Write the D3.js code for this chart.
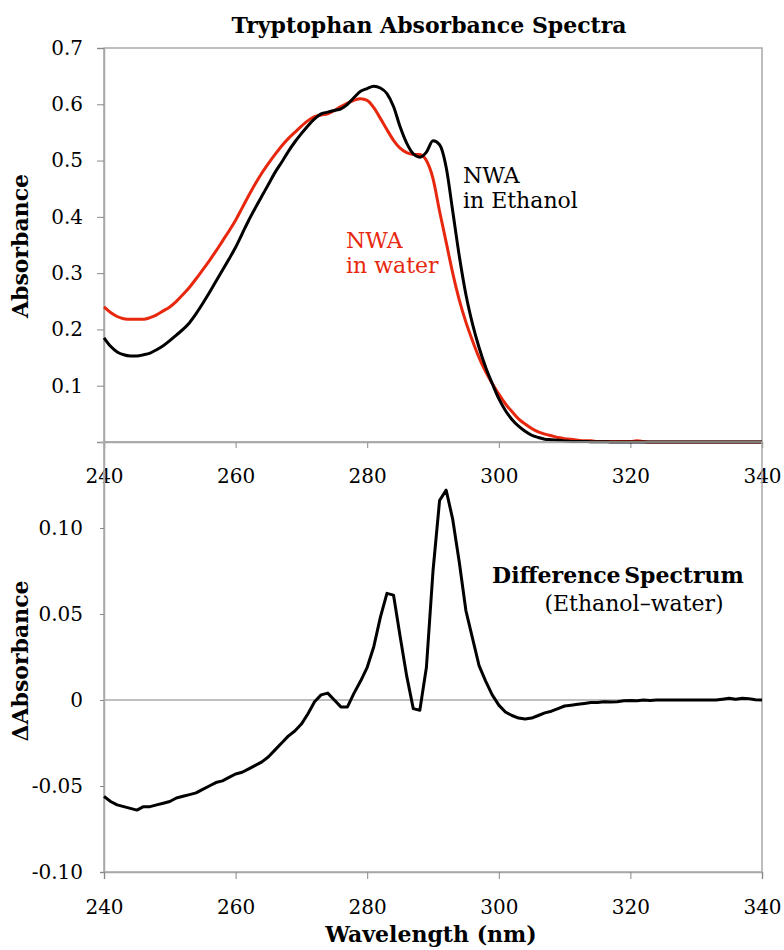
<!DOCTYPE html>
<meta charset="utf-8">
<script src="https://d3js.org/d3.v7.min.js"></script>
<style>
  body { margin: 0; background: #fff; }
  text { font-family: "DejaVu Serif", serif; }
</style>
<div id="my_dataviz"></div>
<script>

// wavelengths (nm), one reading per nm
var wavelength = [
  240,241,242,243,244,245,246,247,248,249,
  250,251,252,253,254,255,256,257,258,259,
  260,261,262,263,264,265,266,267,268,269,
  270,271,272,273,274,275,276,277,278,279,
  280,281,282,283,284,285,286,287,288,289,
  290,291,292,293,294,295,296,297,298,299,
  300,301,302,303,304,305,306,307,308,309,
  310,311,312,313,314,315,316,317,318,319,
  320,321,322,323,324,325,326,327,328,329,
  330,331,332,333,334,335,336,337,338,339,340];

// NWA in ethanol
var ethanol = [
  0.185,0.170,0.160,0.155,0.153,0.153,0.155,0.158,0.164,0.171,
  0.180,0.190,0.200,0.212,0.228,0.246,0.265,0.285,0.305,0.325,
  0.346,0.370,0.394,0.416,0.437,0.458,0.479,0.497,0.516,0.533,
  0.548,0.562,0.574,0.583,0.586,0.589,0.592,0.600,0.612,0.623,
  0.628,0.632,0.629,0.619,0.596,0.560,0.531,0.512,0.506,0.515,
  0.535,0.528,0.488,0.410,0.330,0.262,0.210,0.168,0.133,0.104,
  0.077,0.056,0.040,0.028,0.019,0.012,0.008,0.005,0.004,0.003,
  0.002,0.001,0.001,0.001,0.0005,0.0005,0.0005,0,0,0,
  0,0,0,0,0,0,0,0,0,0,
  0,0,0,0,0,0,0,0,0,0,0];

// NWA in water
var water = [
  0.240,0.230,0.223,0.219,0.218,0.218,0.218,0.221,0.226,0.233,
  0.240,0.250,0.262,0.275,0.290,0.306,0.322,0.339,0.357,0.375,
  0.394,0.416,0.438,0.459,0.478,0.495,0.511,0.526,0.539,0.550,
  0.561,0.571,0.578,0.581,0.583,0.589,0.596,0.602,0.607,0.610,
  0.607,0.594,0.575,0.555,0.536,0.522,0.514,0.511,0.511,0.500,
  0.468,0.410,0.355,0.300,0.252,0.213,0.180,0.150,0.125,0.104,
  0.085,0.068,0.054,0.041,0.032,0.024,0.018,0.014,0.011,0.008,
  0.006,0.005,0.003,0.002,0.002,0.001,0.001,0.001,0.001,0.001,
  0.001,0.002,0.001,0,0,0,0,0,0,0,
  0,0,0,0,0,0,0,0,0,0,0];

// difference spectrum (ethanol - water)
var difference = [
  -0.056,-0.059,-0.061,-0.062,-0.063,-0.064,-0.062,-0.062,-0.061,-0.060,
  -0.059,-0.057,-0.056,-0.055,-0.054,-0.052,-0.050,-0.048,-0.047,-0.045,
  -0.043,-0.042,-0.040,-0.038,-0.036,-0.033,-0.029,-0.025,-0.021,-0.018,
  -0.014,-0.008,-0.001,0.003,0.004,0.000,-0.004,-0.004,0.004,0.011,
  0.019,0.031,0.048,0.062,0.061,0.037,0.014,-0.005,-0.006,0.019,
  0.075,0.116,0.122,0.105,0.080,0.052,0.036,0.020,0.011,0.003,
  -0.003,-0.007,-0.009,-0.0105,-0.011,-0.0105,-0.009,-0.0075,-0.0065,-0.005,
  -0.0035,-0.003,-0.0025,-0.002,-0.0015,-0.0015,-0.001,-0.0012,-0.001,-0.0005,
  -0.0003,-0.0005,0,-0.0003,0,0,0,0,0,0,
  0,0,0,0,0.0005,0.001,0.0005,0.001,0.0008,0.0002,0];

var xTicks = [240, 260, 280, 300, 320, 340];
var absTicks = [0, 0.1, 0.2, 0.3, 0.4, 0.5, 0.6, 0.7];
var diffTicks = [-0.10, -0.05, 0, 0.05, 0.10];

var W = 784, H = 950;
var left = 104, right = 762;
var red = "#e8280e", grey = "#a8a8a8";

var svg = d3.select("#my_dataviz")
  .append("svg")
    .attr("width", W)
    .attr("height", H)
    .style("background", "#fff");

var x = d3.scaleLinear().domain([240, 340]).range([left, right]);
var yTop = d3.scaleLinear().domain([0, 0.7]).range([442, 48]);
var yBot = d3.scaleLinear().domain([-0.10, 0.15]).range([872, 442]);

function frame(y) {
  var r = y.range();
  svg.append("rect")
    .attr("x", left).attr("y", r[1])
    .attr("width", right - left).attr("height", r[0] - r[1])
    .attr("fill", "none").attr("stroke", grey).attr("stroke-width", 1.5);
}

function styleAxis(g) {
  g.select(".domain").attr("stroke", grey).attr("stroke-width", 1.5);
  g.selectAll(".tick line").attr("stroke", "#888").attr("stroke-width", 1);
  g.selectAll(".tick text").attr("fill", "#000")
    .style("font-family", "'DejaVu Serif', serif").style("font-size", "20px");
}

// ---------- top panel ----------
frame(yTop);

svg.append("g")
  .attr("transform", "translate(" + left + ",0)")
  .call(d3.axisLeft(yTop).tickValues(absTicks).tickSize(7).tickPadding(14)
    .tickFormat(function(d) { return d === 0 ? "" : d3.format(".1f")(d); }))
  .call(styleAxis);

svg.append("g")
  .attr("transform", "translate(0,442)")
  .call(d3.axisBottom(x).tickValues(xTicks).tickSize(6).tickPadding(21))
  .call(styleAxis);

var line = function(vals, y) {
  return d3.line()
    .x(function(d, i) { return x(wavelength[i]); })
    .y(function(d) { return y(d); })
    .curve(d3.curveMonotoneX)(vals);
};

svg.append("path")
  .attr("d", line(water, yTop))
  .attr("fill", "none").attr("stroke", red).attr("stroke-width", 3);

svg.append("path")
  .attr("d", line(ethanol, yTop))
  .attr("fill", "none").attr("stroke", "#000").attr("stroke-width", 3);

svg.append("text")
  .attr("x", 429).attr("y", 33)
  .attr("text-anchor", "middle")
  .style("font-size", "22px").style("font-weight", "bold")
  .text("Tryptophan Absorbance Spectra");

svg.append("text")
  .attr("transform", "translate(28,246) rotate(-90)")
  .attr("text-anchor", "middle")
  .style("font-size", "22px").style("font-weight", "bold")
  .text("Absorbance");

var eth = svg.append("text").style("font-size", "22px").attr("fill", "#000");
eth.append("tspan").attr("x", 463).attr("y", 183).text("NWA");
eth.append("tspan").attr("x", 463).attr("y", 208).text("in Ethanol");

var wat = svg.append("text").style("font-size", "22px").attr("fill", red);
wat.append("tspan").attr("x", 346).attr("y", 248).text("NWA");
wat.append("tspan").attr("x", 346).attr("y", 273).text("in water");

// ---------- bottom panel ----------
frame(yBot);

svg.append("line")
  .attr("x1", left).attr("x2", right)
  .attr("y1", yBot(0)).attr("y2", yBot(0))
  .attr("stroke", grey).attr("stroke-width", 1.5);

svg.append("g")
  .attr("transform", "translate(" + left + ",0)")
  .call(d3.axisLeft(yBot).tickValues(diffTicks).tickSize(4).tickPadding(17)
    .tickFormat(function(d) { return d === 0 ? "0" : d3.format(".2f")(d).replace("\u2212", "-"); }))
  .call(styleAxis);

svg.append("g")
  .attr("transform", "translate(0,872)")
  .call(d3.axisBottom(x).tickValues(xTicks).tickSize(7).tickPadding(21))
  .call(styleAxis);

svg.append("path")
  .attr("d", d3.line()
    .x(function(d, i) { return x(wavelength[i]); })
    .y(function(d) { return yBot(d); })(difference))
  .attr("fill", "none").attr("stroke", "#000").attr("stroke-width", 3)
  .attr("stroke-linejoin", "round");

svg.append("text")
  .attr("x", 618).attr("y", 583)
  .attr("text-anchor", "middle")
  .style("font-size", "22px").style("font-weight", "bold")
  .style("word-spacing", "-4px")
  .text("Difference Spectrum");

svg.append("text")
  .attr("x", 634).attr("y", 611)
  .attr("text-anchor", "middle")
  .style("font-size", "22px")
  .text("(Ethanol\u2013water)");

svg.append("text")
  .attr("transform", "translate(28,661) rotate(-90)")
  .attr("text-anchor", "middle")
  .style("font-size", "22px").style("font-weight", "bold")
  .text("\u0394Absorbance");

svg.append("text")
  .attr("x", 431).attr("y", 942)
  .attr("text-anchor", "middle")
  .style("font-size", "22px").style("font-weight", "bold")
  .text("Wavelength (nm)");

</script>
